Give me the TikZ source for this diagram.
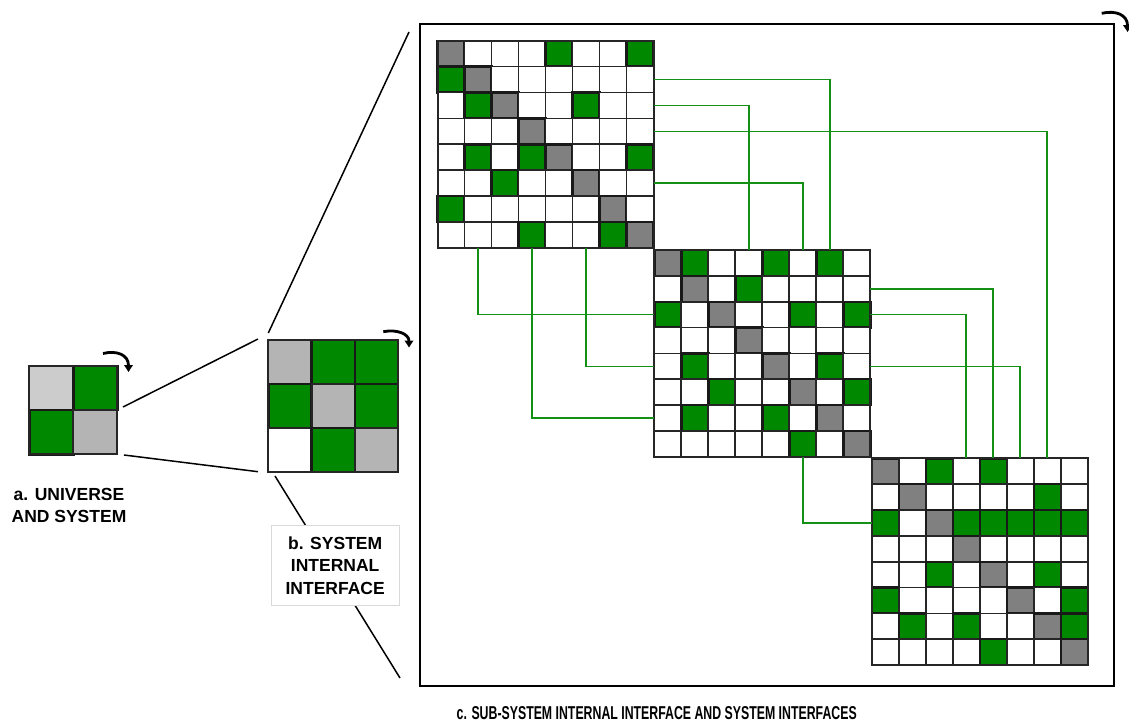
\documentclass[tikz,border=0pt]{standalone}
\usepackage{fontspec}
\setmainfont{Liberation Sans}
\usetikzlibrary{arrows.meta}

\definecolor{cellgreen}{RGB}{0,136,0}
\definecolor{celldark}{RGB}{128,128,128}
\definecolor{celllight}{RGB}{204,204,204}
\definecolor{cellmid}{RGB}{180,180,180}
\definecolor{wire}{RGB}{20,145,20}

\tikzset{
  cell/.style={draw=black!85, line width=1.7pt, inner sep=0pt, outer sep=0pt},
  c0/.style={fill=white},
  cG/.style={fill=cellgreen, draw=black!90, line width=2.4pt},
  cD/.style={fill=celldark, draw=black!90, line width=2.4pt},
  cL/.style={fill=celllight, line width=1.8pt},
  cM/.style={fill=cellmid, line width=1.8pt},
  gridframe/.style={draw=black!85, line width=2pt},
  wirec/.style={draw=wire, line width=1.6pt},
  zoomline/.style={draw=black, line width=1.5pt},
  curl/.style={line width=2.8pt, -{Triangle[length=7pt,width=8.5pt]}},
  caption/.style={font=\bfseries\fontsize{17.5pt}{21.5pt}\selectfont, align=center, inner sep=0pt},
}

% #1 name, #2 x0, #3 y0, #4 cell width, #5 cell height, #6 last index, #7 rows
\newcommand\cellgrid[7]{%
  \foreach \rowlist [count=\ri from 0] in {#7} {
    \foreach \vv [count=\ci from 0] in \rowlist {
      \node[cell, minimum width=#4pt, minimum height=#5pt, style/.expanded=c\vv]
        (#1-\ri-\ci) at ({#2+(\ci+0.5)*#4},{#3+(\ri+0.5)*#5}) {};
    }
  }
  \draw[gridframe] (#1-0-0.north west) rectangle (#1-#6-#6.south east);
}

\begin{document}
\begin{tikzpicture}[x=1pt, y=-1pt]
\useasboundingbox (0,0) rectangle (1129,723);

% outer frame of the sub-system view
\node[draw=black, line width=1.8pt, minimum width=694pt, minimum height=662pt, inner sep=0pt]
  (frame) at (767,355) {};

% zoom lines
\coordinate (za1) at (123,407);   \coordinate (zb1) at (258,339);
\coordinate (za2) at (124,455);   \coordinate (zb2) at (258,471.7);
\coordinate (zb3) at (268.3,333); \coordinate (zc3) at (409,32);
\coordinate (zb4) at (275,476);   \coordinate (zc4) at (400,678);
\draw[zoomline] (za1) -- (zb1);
\draw[zoomline] (za2) -- (zb2);
\draw[zoomline] (zb3) -- (zc3);
\draw[zoomline] (zb4) -- (zc4);

% universe and system
\cellgrid{ga}{29.3}{365.7}{44}{44.3}{1}{{L,G},{G,M}}
% system internal interface
\cellgrid{gb}{268.3}{340}{43.3}{43.9}{2}{{M,G,G},{G,M,G},{0,G,M}}

% sub-system matrices
\cellgrid{g1}{437.5}{40.7}{27}{25.9}{7}{%
  {D,0,0,0,G,0,0,G},{G,D,0,0,0,0,0,0},{0,G,D,0,0,G,0,0},{0,0,0,D,0,0,0,0},%
  {0,G,0,G,D,0,0,G},{0,0,G,0,0,D,0,0},{G,0,0,0,0,0,D,0},{0,0,0,G,0,0,G,D}}
\cellgrid{g2}{654.3}{250}{27}{25.85}{7}{%
  {D,G,0,0,G,0,G,0},{0,D,0,G,0,0,0,0},{G,0,D,0,0,G,0,G},{0,0,0,D,0,0,0,0},%
  {0,G,0,0,D,0,G,0},{0,0,G,0,0,D,0,G},{0,G,0,0,G,0,D,0},{0,0,0,0,0,G,0,D}}
\cellgrid{g3}{871.7}{458.3}{27}{25.85}{7}{%
  {D,0,G,0,G,0,0,0},{0,D,0,0,0,0,G,0},{G,0,D,G,G,G,G,G},{0,0,0,D,0,0,0,0},%
  {0,0,G,0,D,0,G,0},{G,0,0,0,0,D,0,G},{0,G,0,G,0,0,D,G},{0,0,0,0,G,0,0,D}}

% interfaces between sub-systems
\draw[wirec] (g1-1-7.east) -| (g2-0-6.north);
\draw[wirec] (g1-2-7.east) -| (g2-0-3.north);
\draw[wirec] (g1-3-7.east) -| (g3-0-6.north);
\draw[wirec] (g1-5-7.east) -| (g2-0-5.north);
\draw[wirec] (g2-1-7.east) -| (g3-0-4.north);
\draw[wirec] (g2-2-7.east) -| (g3-0-3.north);
\draw[wirec] (g2-4-7.east) -| (g3-0-5.north);
\draw[wirec] (g1-7-1.south) |- (g2-2-0.west);
\draw[wirec] (g1-7-3.south) |- (g2-6-0.west);
\draw[wirec] (g1-7-5.south) |- (g2-4-0.west);
\draw[wirec] (g2-7-5.south) |- (g3-2-0.west);

% rotation marks
\coordinate (ra0) at (103,353.5);   \coordinate (ra1) at (128.5,372);
\coordinate (rb0) at (383.3,331.7); \coordinate (rb1) at (409,347.5);
\coordinate (rc0) at (1101.7,13.3); \coordinate (rc1) at (1127.5,32);
\draw[curl] (ra0) .. controls (117,350) and (128.5,355) .. (ra1);
\draw[curl] (rb0) .. controls (397,329) and (409,334) .. (rb1);
\draw[curl] (rc0) .. controls (1116,10) and (1127.5,15) .. (rc1);

% captions
\node[caption] (capa) at (69,505.5) {a. UNIVERSE\\AND SYSTEM};
\node[caption, draw=black!15, fill=white, line width=0.8pt,
      minimum width=128pt, minimum height=80.5pt] (capb) at (335.2,565.5)
  {b. SYSTEM\\[1pt]INTERNAL\\[1pt]INTERFACE};
\node[inner sep=0pt] (capc) at (656.7,713.5)
  {\resizebox{400pt}{13pt}{\bfseries c. SUB-SYSTEM INTERNAL INTERFACE AND SYSTEM INTERFACES}};
\end{tikzpicture}
\end{document}
